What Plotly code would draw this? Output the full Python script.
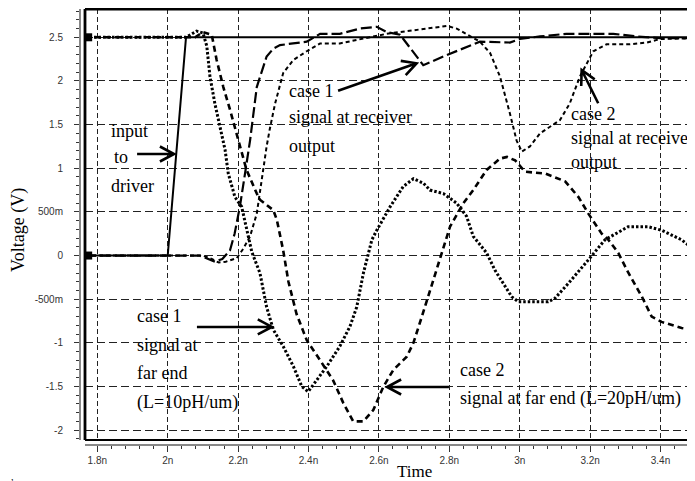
import math
import plotly.graph_objects as go

# ---------------- data (time in ns, voltage in V) ----------------
t_in = [1.765, 2.0, 2.052, 3.498]
v_in = [0, 0, 2.5, 2.5]

# case 1 signal at receiver output (long dash)
t_r1 = [1.765, 2.09, 2.11, 2.134, 2.155, 2.177, 2.19, 2.205, 2.22, 2.234, 2.253, 2.281,
        2.30, 2.319, 2.356, 2.376, 2.395, 2.433, 2.489, 2.546, 2.594, 2.622, 2.66, 2.726,
        2.783, 2.887, 2.972, 3.0, 3.058, 3.133, 3.2, 3.266, 3.332, 3.399, 3.498]
v_r1 = [0, 0, -0.03, -0.07, -0.04, 0.06, 0.25, 0.56, 0.95, 1.32, 1.93, 2.28,
        2.37, 2.41, 2.43, 2.44, 2.45, 2.54, 2.54, 2.60, 2.62, 2.56, 2.53, 2.18,
        2.28, 2.45, 2.44, 2.48, 2.51, 2.54, 2.54, 2.54, 2.51, 2.49, 2.49]

# case 2 signal at receiver output (short dash)
t_r2 = [1.765, 2.10, 2.125, 2.145, 2.165, 2.196, 2.215, 2.234, 2.253, 2.267, 2.281, 2.29,
        2.305, 2.328, 2.357, 2.395, 2.433, 2.489, 2.565, 2.622, 2.698, 2.793, 2.821,
        2.887, 2.916, 2.944, 2.972, 2.991, 3.006, 3.029, 3.058, 3.114, 3.142, 3.171,
        3.209, 3.247, 3.313, 3.361, 3.399, 3.498]
v_r2 = [0, 0, -0.04, -0.08, -0.07, -0.03, 0.08, 0.22, 0.48, 0.87, 1.25, 1.45,
        1.74, 2.09, 2.24, 2.34, 2.43, 2.43, 2.49, 2.54, 2.58, 2.63, 2.60,
        2.45, 2.32, 2.05, 1.63, 1.32, 1.19, 1.25, 1.40, 1.55, 1.74, 2.05,
        2.34, 2.42, 2.42, 2.44, 2.48, 2.49]

# case 1 signal at far end, L=10pH/um (dotted)
t_f1 = [1.765, 2.052, 2.082, 2.10, 2.111, 2.120, 2.134, 2.149, 2.163, 2.172, 2.191, 2.210,
        2.239, 2.262, 2.281, 2.300, 2.328, 2.357, 2.381, 2.399, 2.423, 2.452, 2.489,
        2.518, 2.537, 2.556, 2.580, 2.594, 2.632, 2.669, 2.698, 2.726, 2.745, 2.783,
        2.821, 2.849, 2.868, 2.906, 2.930, 2.977, 2.996, 3.081, 3.100, 3.138, 3.195,
        3.242, 3.308, 3.365, 3.403, 3.460, 3.498]
v_f1 = [2.5, 2.5, 2.57, 2.55, 2.40, 2.05, 1.74, 1.48, 1.21, 0.94, 0.67, 0.56,
        0.04, -0.20, -0.59, -0.85, -1.04, -1.27, -1.50, -1.56, -1.43, -1.27, -1.04,
        -0.81, -0.59, -0.20, 0.18, 0.29, 0.56, 0.79, 0.88, 0.83, 0.75, 0.71,
        0.60, 0.45, 0.22, 0.03, -0.17, -0.47, -0.53, -0.53, -0.49, -0.32, -0.05,
        0.18, 0.33, 0.33, 0.29, 0.18, 0.06]

# case 2 signal at far end, L=20pH/um (short thick dash)
t_f2 = [1.765, 2.078, 2.10, 2.125, 2.139, 2.158, 2.177, 2.196, 2.210, 2.224, 2.253, 2.262,
        2.300, 2.310, 2.328, 2.343, 2.366, 2.395, 2.433, 2.470, 2.499, 2.527, 2.556,
        2.584, 2.613, 2.641, 2.679, 2.698, 2.722, 2.745, 2.774, 2.802, 2.840, 2.868,
        2.906, 2.944, 2.964, 2.987, 3.015, 3.072, 3.129, 3.167, 3.195, 3.233, 3.252,
        3.280, 3.309, 3.347, 3.375, 3.403, 3.460, 3.498]
v_f2 = [2.5, 2.5, 2.56, 2.53, 2.24, 1.93, 1.67, 1.40, 1.21, 0.98, 0.71, 0.64,
        0.52, 0.41, 0.06, -0.30, -0.67, -0.97, -1.20, -1.43, -1.69, -1.90, -1.90,
        -1.77, -1.50, -1.31, -1.16, -1.00, -0.70, -0.40, -0.05, 0.33, 0.60, 0.75,
        0.98, 1.11, 1.13, 1.09, 0.96, 0.94, 0.85, 0.67, 0.48, 0.25, 0.18,
        0.03, -0.20, -0.47, -0.70, -0.76, -0.83, -0.85]

# node markers at the left edge
t_mark = [1.774, 1.774]
v_mark = [2.5, 0]

x_tickvals = [1.8, 2.0, 2.2, 2.4, 2.6, 2.8, 3.0, 3.2, 3.4]
x_ticktext = ["1.8n", "2n", "2.2n", "2.4n", "2.6n", "2.8n", "3n", "3.2n", "3.4n"]
y_tickvals = [-2, -1.5, -1, -0.5, 0, 0.5, 1, 1.5, 2, 2.5]
y_ticktext = ["-2", "-1.5", "-1", "-500m", "0", "500m", "1", "1.5", "2", "2.5"]

X_RANGE = [1.765, 3.498]
Y_RANGE = [-2.113, 2.824]

# ---------------- layout geometry ----------------
# the page body adds an 8px offset; compensate so the chart lands where the reference has it
OFF = 8
W, H = 695 - OFF, 481 - OFF
ML, MR, MT, MB = 80 - OFF, 0, 9 - OFF, 36
PW, PH = W - ML - MR, H - MT - MB
X_DOM = [5 / PW, 1]
Y_DOM = [5 / PH, 1]
plot_w = PW * (X_DOM[1] - X_DOM[0])
plot_h = PH * (Y_DOM[1] - Y_DOM[0])
SX = plot_w / (X_RANGE[1] - X_RANGE[0])
SY = plot_h / (Y_RANGE[1] - Y_RANGE[0])


def px_to_paper(px, py):
    """reference-image pixel -> paper coords"""
    return (px - OFF - ML) / PW, (H - MB - (py - OFF)) / PH


fig = go.Figure()

fig.add_trace(go.Scatter(x=t_in, y=v_in, mode="lines",
                         line=dict(color="black", width=2), hoverinfo="skip"))
fig.add_trace(go.Scatter(x=t_r1, y=v_r1, mode="lines",
                         line=dict(color="black", width=2.2, dash="11px,4px"), hoverinfo="skip"))
fig.add_trace(go.Scatter(x=t_r2, y=v_r2, mode="lines",
                         line=dict(color="black", width=2, dash="4px,3px"), hoverinfo="skip"))
fig.add_trace(go.Scatter(x=t_f1, y=v_f1, mode="lines",
                         line=dict(color="black", width=3, dash="2.5px,2px"), hoverinfo="skip"))
fig.add_trace(go.Scatter(x=t_f2, y=v_f2, mode="lines",
                         line=dict(color="black", width=2.6, dash="6px,4px"), hoverinfo="skip"))
fig.add_trace(go.Scatter(x=t_mark, y=v_mark, mode="markers",
                         marker=dict(symbol="square", size=8, color="black"),
                         hoverinfo="skip", cliponaxis=False))

shapes = []
# plot frame (left, top, bottom)
for (x0, y0, x1, y1, w) in [(0, 0, 0, 1, 2.8), (0, 1, 1, 1, 3), (0, 0, 1, 0, 2)]:
    shapes.append(dict(type="line", xref="x domain", yref="y domain",
                       x0=x0, y0=y0, x1=x1, y1=y1,
                       line=dict(color="black", width=w), layer="above"))


def arrow(t0, v0, t1, v1, arm=16, ang=28):
    dx, dy = (t1 - t0) * SX, (v1 - v0) * SY
    L = math.hypot(dx, dy)
    ux, uy = dx / L, dy / L
    pts = []
    for s in (1, -1):
        a = math.radians(ang) * s
        bx = (-ux) * math.cos(a) - (-uy) * math.sin(a)
        by = (-ux) * math.sin(a) + (-uy) * math.cos(a)
        pts.append((t1 + bx * arm / SX, v1 + by * arm / SY))
    path = (f"M {t0},{v0} L {t1},{v1} M {pts[0][0]},{pts[0][1]} L {t1},{v1} "
            f"L {pts[1][0]},{pts[1][1]}")
    return dict(type="path", xref="x", yref="y", path=path,
                line=dict(color="black", width=2.6), layer="above")


shapes.append(arrow(1.913, 1.163, 2.018, 1.163))
shapes.append(arrow(2.484, 1.888, 2.707, 2.202))
shapes.append(arrow(3.223, 1.744, 3.176, 2.125))
shapes.append(arrow(2.083, -0.818, 2.296, -0.818))
shapes.append(arrow(2.799, -1.506, 2.623, -1.506))

SERIF = "Liberation Serif, Times New Roman, serif"
ann = []


def txt(t, v, s, size=18):
    ann.append(dict(x=t, y=v, xref="x", yref="y", text=s, showarrow=False,
                    xanchor="left", yanchor="middle",
                    font=dict(family=SERIF, size=size, color="black")))


txt(1.833, 1.427, "input")
txt(1.842, 1.129, "to")
txt(1.833, 0.797, "driver")
txt(2.339, 1.889, "case 1")
txt(2.339, 1.587, "signal at receiver")
txt(2.339, 1.258, "output")
txt(3.140, 1.621, "case 2")
txt(3.140, 1.343, "signal at receiver")
txt(3.140, 1.075, "output")
txt(1.907, -0.689, "case 1")
txt(1.907, -1.021, "signal at")
txt(1.907, -1.349, "far end")
txt(1.907, -1.681, "(L=10pH/um)")
txt(2.825, -1.311, "case 2")
txt(2.825, -1.643, "signal at far end (L=20pH/um)")

# axis titles
xp, yp = px_to_paper(18, 230)
ann.append(dict(x=xp, y=yp, xref="paper", yref="paper",
                text="Voltage (V)", textangle=-90, showarrow=False,
                xanchor="center", yanchor="middle",
                font=dict(family=SERIF, size=18, color="black")))
xp, yp = px_to_paper(414.7, 471.5)
ann.append(dict(x=xp, y=yp, xref="paper", yref="paper",
                text="Time", showarrow=False, xanchor="center", yanchor="middle",
                font=dict(family=SERIF, size=17, color="black")))
xp, yp = px_to_paper(9, 476)
ann.append(dict(x=xp, y=yp, xref="paper", yref="paper",
                text=",", showarrow=False, xanchor="left", yanchor="middle",
                font=dict(family=SERIF, size=10, color="black")))

TICKFONT = dict(family="Liberation Sans, Arial, sans-serif", size=10, color="#333333")

fig.update_layout(
    width=W, height=H,
    margin=dict(l=ML, r=MR, t=MT, b=MB, pad=0),
    paper_bgcolor="white", plot_bgcolor="white",
    showlegend=False,
    shapes=shapes, annotations=ann,
    xaxis=dict(domain=X_DOM, range=X_RANGE, anchor="free", position=0,
               tickmode="array", tickvals=x_tickvals, ticktext=x_ticktext,
               ticks="outside", ticklen=6, tickwidth=1, tickcolor="#333333",
               showline=True, linecolor="#888888", linewidth=2,
               showgrid=True, gridcolor="#222222", gridwidth=1, griddash="5px,3px",
               zeroline=False, tickfont=TICKFONT,
               minor=dict(tickmode="linear", tick0=1.8, dtick=0.04, ticks="outside",
                          ticklen=3, tickcolor="#333333", showgrid=False)),
    yaxis=dict(domain=Y_DOM, range=Y_RANGE, anchor="free", position=0,
               tickmode="array", tickvals=y_tickvals, ticktext=y_ticktext,
               ticks="outside", ticklen=5, tickwidth=1, tickcolor="#333333",
               ticklabelstandoff=9,
               showline=True, linecolor="#888888", linewidth=2,
               showgrid=True, gridcolor="#222222", gridwidth=1, griddash="8px,4px",
               zeroline=False, tickfont=TICKFONT,
               minor=dict(tickmode="linear", tick0=0, dtick=0.1, ticks="outside",
                          ticklen=3, tickcolor="#333333", showgrid=False)),
)

fig.write_html("out.html")
